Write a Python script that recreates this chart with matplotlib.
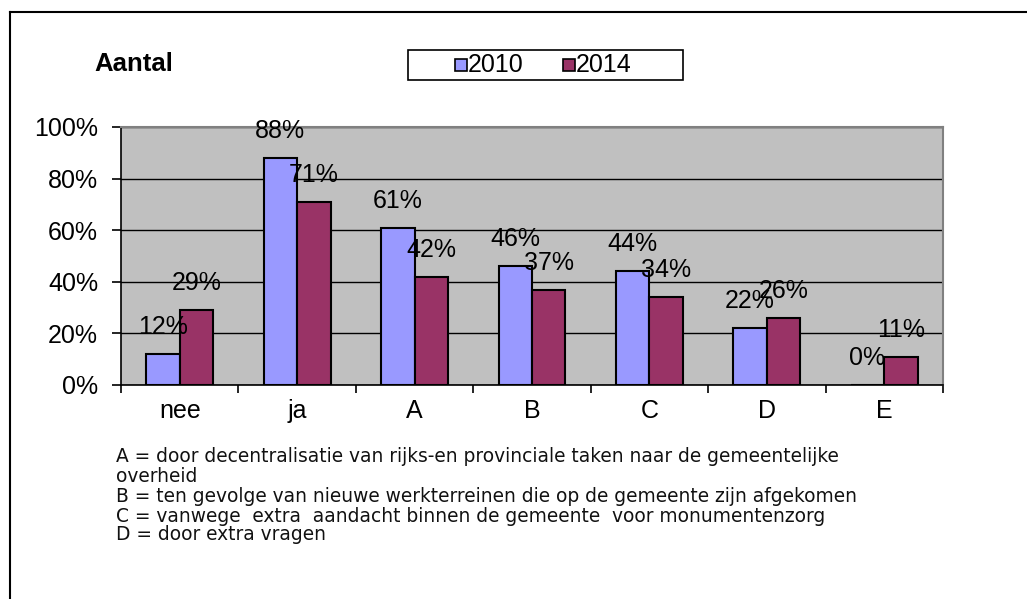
import matplotlib
matplotlib.use("Agg")
import matplotlib.pyplot as plt
from matplotlib.patches import Rectangle
from matplotlib.lines import Line2D
import numpy as np

categories = ["nee", "ja", "A", "B", "C", "D", "E"]
vals_2010 = [12, 88, 61, 46, 44, 22, 0]
vals_2014 = [29, 71, 42, 37, 34, 26, 11]
series_names = ["2010", "2014"]
series_colors = ["#9999FF", "#993366"]
y_ticks = [0, 20, 40, 60, 80, 100]
footnote_lines = [
    "A = door decentralisatie van rijks-en provinciale taken naar de gemeentelijke",
    "overheid",
    "B = ten gevolge van nieuwe werkterreinen die op de gemeente zijn afgekomen",
    "C = vanwege  extra  aandacht binnen de gemeente  voor monumentenzorg",
    "D = door extra vragen",
]

plt.rcParams['font.family'] = ['Liberation Sans', 'DejaVu Sans']
W, H = 1027, 599
fig = plt.figure(figsize=(W / 100, H / 100), dpi=100)

def fx(px):
    return px / W
def fy(py):
    return 1 - py / H

# outer frame (left and top edges only visible)
fig.add_artist(Line2D([fx(10), fx(10)], [0, fy(12)], transform=fig.transFigure,
                      color='black', lw=1.5))
fig.add_artist(Line2D([fx(10), 1], [fy(12), fy(12)], transform=fig.transFigure,
                      color='black', lw=1.5))

ax = fig.add_axes([fx(121), fy(385), fx(943) - fx(121), fy(127) - fy(385)])
ax.set_facecolor('#C0C0C0')
x = np.arange(len(categories))
bw = 0.285
b1 = ax.bar(x - bw / 2, vals_2010, bw, color=series_colors[0], edgecolor='black', lw=1.5, zorder=3)
b2 = ax.bar(x + bw / 2, vals_2014, bw, color=series_colors[1], edgecolor='black', lw=1.5, zorder=3)

for bars, vals in ((b1, vals_2010), (b2, vals_2014)):
    for r, v in zip(bars, vals):
        ax.annotate(f"{v}%", (r.get_x() + r.get_width() / 2, v), xytext=(0, 27),
                    textcoords='offset pixels', ha='center', va='center',
                    fontsize=18, zorder=5, annotation_clip=False)

ax.set_xlim(-0.5, len(categories) - 0.5)
ax.set_ylim(0, 100)
ax.set_yticks(y_ticks)
ax.set_yticklabels([f"{t}%" for t in y_ticks], fontsize=18)
ax.yaxis.grid(True, color='black', lw=1.0, zorder=1)
ax.set_xticks(np.arange(-0.5, len(categories) + 0.5, 1))
ax.set_xticklabels([])
ax.set_xticks(x, minor=True)
ax.set_xticklabels(categories, minor=True, fontsize=18)
ax.tick_params(axis='x', which='minor', length=0, pad=10)
ax.tick_params(axis='x', which='major', length=6, direction='out', width=1.2)
ax.tick_params(axis='y', length=6.5, width=1.2, pad=10)
for s in ['top', 'right']:
    ax.spines[s].set_color('#808080')
    ax.spines[s].set_linewidth(1.5)
for s in ['left', 'bottom']:
    ax.spines[s].set_color('black')
    ax.spines[s].set_linewidth(1.2)

fig.text(fx(94), fy(64), "Aantal", fontsize=18.5, fontweight='bold', va='center', ha='left')

# legend box drawn manually
fig.add_artist(Rectangle((fx(408), fy(80)), fx(683) - fx(408), fy(50) - fy(80),
                         transform=fig.transFigure, facecolor='white', edgecolor='black', lw=1.2))
leg_x = [455, 563]
for lx, name, col in zip(leg_x, series_names, series_colors):
    fig.add_artist(Rectangle((fx(lx), fy(71)), fx(lx + 12) - fx(lx), fy(59) - fy(71),
                             transform=fig.transFigure, facecolor=col, edgecolor='black', lw=1.2))
    fig.text(fx(lx + 13), fy(65), name, fontsize=18, va='center', ha='left')

ys = [456, 477, 497, 516, 535]
for yy, t in zip(ys, footnote_lines):
    fig.text(fx(116), fy(yy), t, fontsize=13.4, va='center', ha='left', color='#111111',
             family='DejaVu Sans')

fig.savefig("out.png", dpi=100)
